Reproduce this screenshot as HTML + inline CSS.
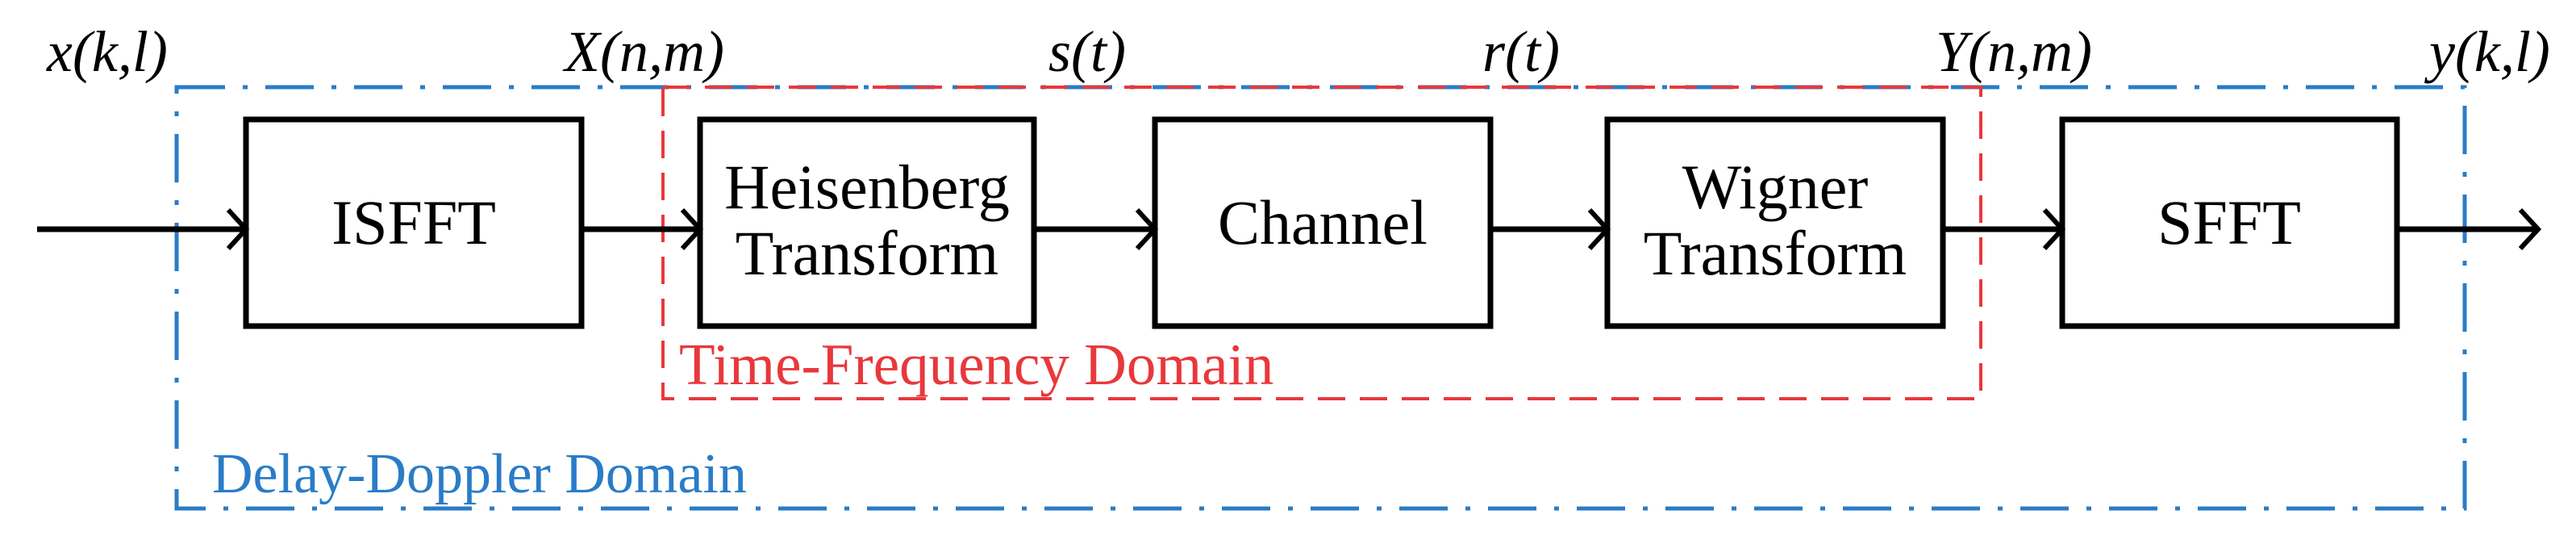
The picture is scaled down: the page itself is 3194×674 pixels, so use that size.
<!DOCTYPE html>
<html><head><style>
body{margin:0;background:#fff}
svg{display:block}
text{font-family:"Liberation Serif",serif}
</style></head><body>
<svg width="3194" height="674" viewBox="0 0 3194 674" xmlns="http://www.w3.org/2000/svg">
<defs>
<marker id="a" markerWidth="40" markerHeight="60" refX="36" refY="30" orient="auto" markerUnits="userSpaceOnUse">
<path d="M14,6 L36,30 L14,54" fill="none" stroke="#000" stroke-width="6"/>
</marker>
</defs>
<rect x="219" y="108" width="2837" height="522" fill="none" stroke="#2a7cc7" stroke-width="5" stroke-dasharray="60,22,6,22"/>
<rect x="822" y="108" width="1634" height="386" fill="none" stroke="#e8383c" stroke-width="4" stroke-dasharray="34,18"/>
<g fill="none" stroke="#000" stroke-width="7">
<rect x="305" y="148" width="416" height="256"/>
<rect x="868" y="148" width="414" height="256"/>
<rect x="1432" y="148" width="416" height="256"/>
<rect x="1993" y="148" width="416" height="256"/>
<rect x="2557" y="148" width="415" height="256"/>
<line x1="46" y1="284" x2="305" y2="284" marker-end="url(#a)"/>
<line x1="721" y1="284" x2="868" y2="284" marker-end="url(#a)"/>
<line x1="1282" y1="284" x2="1432" y2="284" marker-end="url(#a)"/>
<line x1="1848" y1="284" x2="1993" y2="284" marker-end="url(#a)"/>
<line x1="2409" y1="284" x2="2557" y2="284" marker-end="url(#a)"/>
<line x1="2972" y1="284" x2="3147" y2="284" marker-end="url(#a)"/>
</g>
<g font-size="78" text-anchor="middle" fill="#000">
<text x="513" y="302">ISFFT</text>
<text x="1075" y="258">Heisenberg</text>
<text x="1075" y="340">Transform</text>
<text x="1640" y="302">Channel</text>
<text x="2201" y="258">Wigner</text>
<text x="2201" y="340">Transform</text>
<text x="2764" y="302">SFFT</text>
</g>
<g font-size="72" font-style="italic" fill="#000">
<text x="58" y="88">x(k,l)</text>
<text x="700" y="88">X(n,m)</text>
<text x="1300" y="88">s(t)</text>
<text x="1838" y="88">r(t)</text>
<text x="2400" y="88">Y(n,m)</text>
<text x="3012" y="88">y(k,l)</text>
</g>
<text x="842" y="476" font-size="73" fill="#e8383c">Time-Frequency Domain</text>
<text x="263" y="610" font-size="70" fill="#2a7cc7">Delay-Doppler Domain</text>
</svg>
</body></html>
